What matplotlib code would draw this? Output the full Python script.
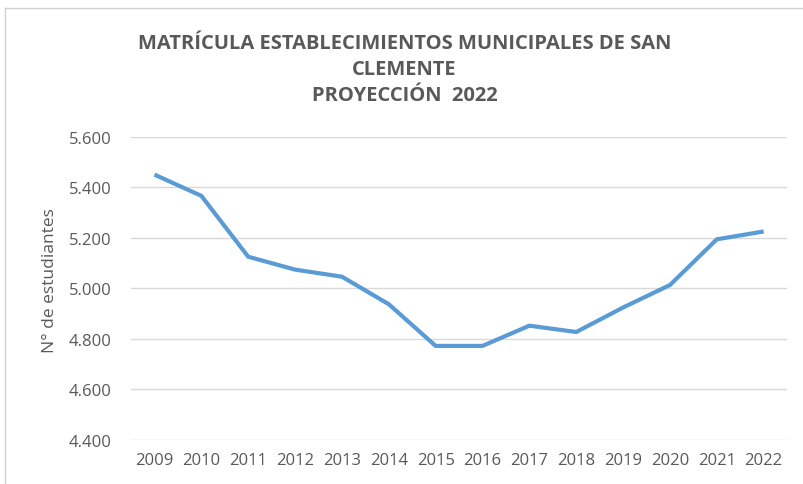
import matplotlib.pyplot as plt
from matplotlib.lines import Line2D
from matplotlib.ticker import FuncFormatter

years = ['2009', '2010', '2011', '2012', '2013', '2014', '2015',
         '2016', '2017', '2018', '2019', '2020', '2021', '2022']
students = [5450, 5366, 5125, 5074, 5046, 4937, 4772,
            4772, 4852, 4827, 4924, 5013, 5194, 5225]
yticks = [4400, 4600, 4800, 5000, 5200, 5400, 5600]

plt.rcParams['font.family'] = ['Open Sans', 'DejaVu Sans']
grey = '#595959'

fig = plt.figure(figsize=(8.04, 4.85), dpi=100)
ax = fig.add_axes([0.163, 0.091, 0.816, 0.625])

x = range(len(years))
ax.plot(x, students, color='#5B9BD5', lw=3.0, solid_capstyle='butt',
        solid_joinstyle='miter')

ax.set_xlim(-0.5, len(years) - 0.5)
ax.set_ylim(4400, 5600)
ax.set_yticks(yticks)
ax.yaxis.set_major_formatter(FuncFormatter(lambda v, p: '{:,.0f}'.format(v).replace(',', '.')))
ax.set_xticks(list(x))
ax.set_xticklabels(years)
ax.grid(axis='y', color='#d9d9d9', lw=1.0)
ax.set_axisbelow(True)
for s in ax.spines.values():
    s.set_visible(False)
ax.tick_params(length=0, labelsize=12, labelcolor=grey, pad=9)
ax.tick_params(axis='y', pad=14)

ax.set_ylabel('N° de estudiantes', fontsize=12.5, color=grey)
ax.yaxis.set_label_coords(-0.112, 0.53)

fig.text(0.503, 0.855, 'MATRÍCULA ESTABLECIMIENTOS MUNICIPALES DE SAN\nCLEMENTE\nPROYECCIÓN  2022',
         ha='center', va='center', fontsize=14.5, fontweight='bold', color=grey,
         linespacing=1.4)

# chart border (cut off at right and bottom)
fig.add_artist(Line2D([0.0065, 0.0065], [0.0, 0.981], color='#d0d0d0', lw=1))
fig.add_artist(Line2D([0.0065, 1.0], [0.981, 0.981], color='#d0d0d0', lw=1))

fig.savefig('out.png', dpi=100, facecolor='white')
